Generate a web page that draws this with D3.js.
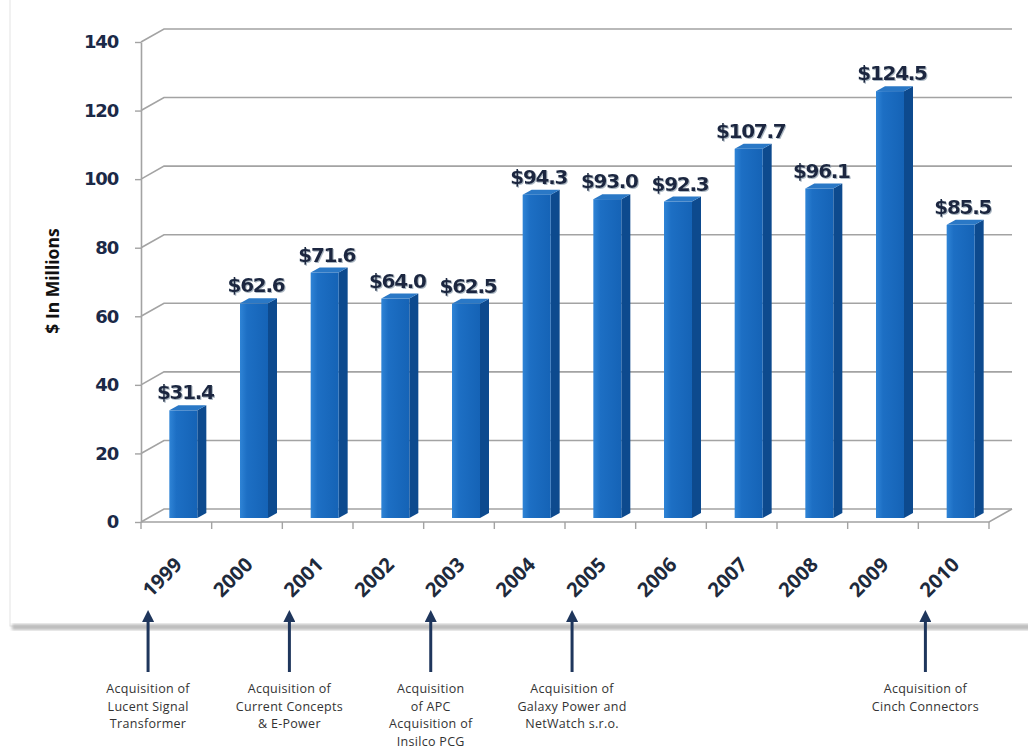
<!DOCTYPE html>
<html>
<head>
<meta charset="utf-8">
<script src="https://cdn.jsdelivr.net/npm/d3@7"></script>
<style>
  body { margin: 0; background: #fff; }
  svg { display: block; }
</style>
</head>
<body>
<div id="chart"></div>
<script>
var years = ["1999","2000","2001","2002","2003","2004","2005","2006","2007","2008","2009","2010"];
var revenue = [31.4, 62.6, 71.6, 64.0, 62.5, 94.3, 93.0, 92.3, 107.7, 96.1, 124.5, 85.5];
var yTicks = [0, 20, 40, 60, 80, 100, 120, 140];
var acqYears = ["1999", "2001", "2003", "2005", "2010"];
var acqLines = [
  ["Acquisition of", "Lucent Signal", "Transformer"],
  ["Acquisition of", "Current Concepts", "& E-Power"],
  ["Acquisition", "of APC", "Acquisition of", "Insilco PCG"],
  ["Acquisition of", "Galaxy Power and", "NetWatch s.r.o."],
  ["Acquisition of", "Cinch Connectors"]
];

var W = 1028, H = 750;
var depth = {dx: 23, dy: -13};       // floor / wall depth
var barOff = {dx: 7, dy: -4};        // bar front plane
var barDepth = {dx: 9, dy: -5};
var barW = 28;

var xScale = d3.scaleBand().domain(years).range([141, 989]),
    yScale = d3.scaleLinear().domain([0, 140]).range([522, 42]);
var bw = xScale.bandwidth();

var svg = d3.select("#chart").append("svg")
    .attr("width", W)
    .attr("height", H);

var defs = svg.append("defs");
var grad = defs.append("linearGradient").attr("id", "front").attr("x1", 0).attr("x2", 1);
grad.append("stop").attr("offset", 0).attr("stop-color", "#2f84d6");
grad.append("stop").attr("offset", 0.25).attr("stop-color", "#1d6fc4");
grad.append("stop").attr("offset", 1).attr("stop-color", "#1563b6");
defs.append("filter").attr("id", "blur").append("feGaussianBlur").attr("stdDeviation", 1.5);
defs.append("filter").attr("id", "tshadow")
  .append("feDropShadow").attr("dx", 1).attr("dy", 1).attr("stdDeviation", 0.6)
  .attr("flood-color", "#8899aa").attr("flood-opacity", 0.7);

// chart frame
svg.append("rect")
    .attr("x", 10).attr("y", -2).attr("width", W).attr("height", 628)
    .attr("fill", "none").attr("stroke", "#e4e4e4");
svg.append("rect")
    .attr("x", 12).attr("y", 624).attr("width", W).attr("height", 6)
    .attr("fill", "#bdbdbd").attr("filter", "url(#blur)");

// gridlines on side wall + back wall
svg.append("g").selectAll("path")
    .data(yTicks)
    .enter().append("path")
    .attr("d", function(d) {
      var y = yScale(d);
      return "M" + xScale.range()[0] + "," + y +
             "L" + (xScale.range()[0] + depth.dx) + "," + (y + depth.dy) +
             "L" + (xScale.range()[1] + depth.dx) + "," + (y + depth.dy);
    })
    .attr("fill", "none")
    .attr("stroke", "#a3a3a3")
    .attr("stroke-width", 1.6);

// floor front + right edge
var x0 = xScale.range()[0], x1 = xScale.range()[1], yb = yScale(0);
svg.append("path")
    .attr("d", "M" + x0 + "," + yb + "L" + x1 + "," + yb + "L" + (x1 + depth.dx) + "," + (yb + depth.dy))
    .attr("fill", "none")
    .attr("stroke", "#a3a3a3")
    .attr("stroke-width", 1.6);

// y axis
var yAxis = d3.axisLeft(yScale).tickValues(yTicks).tickSize(6).tickSizeOuter(0).tickPadding(17);
var gy = svg.append("g").attr("transform", "translate(" + x0 + ",0)").call(yAxis);
gy.select(".domain").attr("stroke", "#a3a3a3").attr("stroke-width", 1.6);
gy.selectAll(".tick line").attr("stroke", "#a3a3a3").attr("stroke-width", 1.4);
gy.selectAll(".tick text")
    .attr("font-family", "DejaVu Sans")
    .attr("font-weight", "bold")
    .attr("font-size", 18)
    .attr("letter-spacing", -1.2)
    .attr("fill", "#1b2947");

// category ticks at band boundaries
svg.append("g").selectAll("line")
    .data(years.concat(["end"]))
    .enter().append("line")
    .attr("x1", function(d) { return d === "end" ? x1 : xScale(d); })
    .attr("x2", function(d) { return d === "end" ? x1 : xScale(d); })
    .attr("y1", yb)
    .attr("y2", yb + 7)
    .attr("stroke", "#a3a3a3")
    .attr("stroke-width", 1.4);

// bars
var bars = svg.append("g").selectAll("g")
    .data(years)
    .enter().append("g");

function bx(d) { return xScale(d) + bw / 2 + barOff.dx - barW / 2; }
function by(i) { return yScale(revenue[i]) + barOff.dy; }

bars.append("path") // side
    .attr("d", function(d, i) {
      var l = bx(d) + barW, t = by(i), b = yb + barOff.dy;
      return "M" + l + "," + t + "L" + (l + barDepth.dx) + "," + (t + barDepth.dy) +
             "L" + (l + barDepth.dx) + "," + (b + barDepth.dy) + "L" + l + "," + b + "Z";
    })
    .attr("fill", "#0d4a8e");

bars.append("path") // top
    .attr("d", function(d, i) {
      var l = bx(d), t = by(i);
      return "M" + l + "," + t + "L" + (l + barDepth.dx) + "," + (t + barDepth.dy) +
             "L" + (l + barW + barDepth.dx) + "," + (t + barDepth.dy) + "L" + (l + barW) + "," + t + "Z";
    })
    .attr("fill", "#2a78c6");

bars.append("rect") // front
    .attr("x", function(d) { return bx(d); })
    .attr("y", function(d, i) { return by(i); })
    .attr("width", barW)
    .attr("height", function(d, i) { return yb + barOff.dy - by(i); })
    .attr("fill", "url(#front)");

// value labels
svg.append("g").selectAll("text")
    .data(years)
    .enter().append("text")
    .attr("x", function(d) { return bx(d) + barW / 2 + 2; })
    .attr("y", function(d, i) { return by(i) - 11; })
    .attr("text-anchor", "middle")
    .attr("font-family", "DejaVu Sans")
    .attr("font-weight", "bold")
    .attr("font-size", 20)
    .attr("letter-spacing", -1.3)
    .attr("fill", "#1a2740")
    .attr("filter", "url(#tshadow)")
    .text(function(d, i) { return "$" + revenue[i].toFixed(1); });

// year labels
svg.append("g").selectAll("text")
    .data(years)
    .enter().append("text")
    .attr("transform", function(d) {
      return "translate(" + (xScale(d) + bw / 2 + 7) + ",566) rotate(-45)";
    })
    .attr("text-anchor", "end")
    .attr("font-family", "Open Sans")
    .attr("font-weight", "bold")
    .attr("font-size", 20)
    .attr("fill", "#1e2a3c")
    .text(function(d) { return d; });

// y title
svg.append("text")
    .attr("transform", "translate(59,281) rotate(-90)")
    .attr("text-anchor", "middle")
    .attr("font-family", "Open Sans")
    .attr("font-weight", "bold")
    .attr("font-size", 17.5)
    .attr("fill", "#111")
    .text("$ In Millions");

// acquisition arrows + notes
defs.append("marker")
    .attr("id", "head")
    .attr("viewBox", "0 0 10 10")
    .attr("refX", 5).attr("refY", 5)
    .attr("markerWidth", 4).attr("markerHeight", 4)
    .attr("orient", "auto")
    .append("path").attr("d", "M0,0L10,5L0,10Z").attr("fill", "#1f365c");

var notes = svg.append("g").selectAll("g")
    .data(acqYears)
    .enter().append("g")
    .attr("transform", function(d) { return "translate(" + (xScale(d) + bw * 0.1) + ",0)"; });

notes.append("line")
    .attr("x1", 0).attr("x2", 0)
    .attr("y1", 672).attr("y2", 616)
    .attr("stroke", "#1f365c")
    .attr("stroke-width", 3)
    .attr("marker-end", "url(#head)");

notes.append("text")
    .attr("text-anchor", "middle")
    .attr("font-family", "Open Sans")
    .attr("font-size", 12.5)
    .attr("letter-spacing", 0.3)
    .attr("fill", "#333")
    .selectAll("tspan")
    .data(function(d, i) { return acqLines[i]; })
    .enter().append("tspan")
    .attr("x", 0)
    .attr("y", function(d, i) { return 693 + i * 17.5; })
    .text(function(d) { return d; });
</script>
</body>
</html>
